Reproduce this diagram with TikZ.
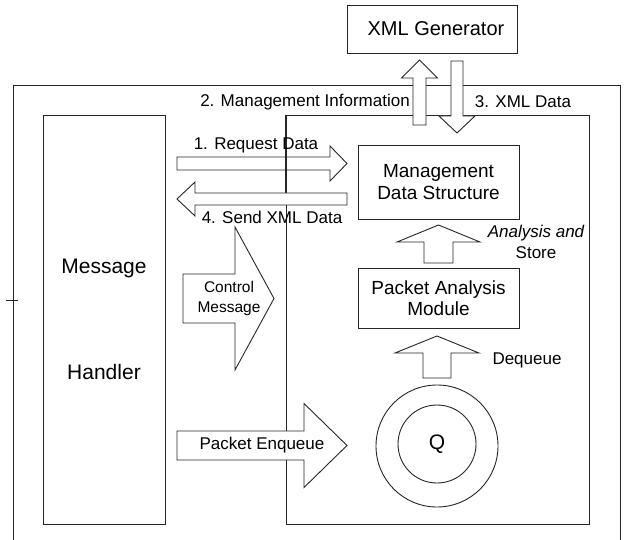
\documentclass[tikz,border=0pt]{standalone}
\usepackage{fontspec}
\setmainfont{Liberation Sans}
\newcommand\boxfont{\fontsize{19}{21.5}\selectfont}
\newcommand\bigfont{\fontsize{21}{24}\selectfont}
\newcommand\lblfont{\fontsize{17}{21}\selectfont}
\newcommand\smallfont{\fontsize{15.5}{20}\selectfont}
\tikzset{
  line/.style={draw=black!85, line width=0.9pt},
  box/.style={line, rectangle, inner sep=0pt, align=center, font=\boxfont},
  blockarrow/.style={line, fill=white, line join=miter},
  lbl/.style={inner sep=0pt, align=center, font=\lblfont},
}
% horizontal block arrow: [opts]{tail x}{tip x}{head base x}{centre y}{half shaft}{half head}
\newcommand\hblock[7][]{%
  \path[blockarrow,#1] (#2,{#5-#6}) -- (#4,{#5-#6}) -- (#4,{#5-#7}) -- (#3,#5)
    -- (#4,{#5+#7}) -- (#4,{#5+#6}) -- (#2,{#5+#6}) -- cycle;}
% vertical block arrow: [opts]{centre x}{tail y}{tip y}{head base y}{half shaft}{half head}
\newcommand\vblock[7][]{%
  \path[blockarrow,#1] ({#2-#6},#3) -- ({#2-#6},#5) -- ({#2-#7},#5) -- (#2,#4)
    -- ({#2+#7},#5) -- ({#2+#6},#5) -- ({#2+#6},#3) -- cycle;}
\begin{document}
\begin{tikzpicture}[x=1pt,y=-1pt]
\useasboundingbox (0,0) rectangle (624,540);

% outer system frame (open at the bottom edge)
\draw[line] (13,548) -- (13,85) -- (620,85) -- (620,548);
\draw[line, line width=0.6pt] (6,300) -- (18,300);

% inner processing area
\node[line, rectangle, minimum width=303pt, minimum height=409pt, inner sep=0pt]
  (core) at (437.5,319.5) {};

% boxes
\node[box, minimum width=170pt, minimum height=48pt] (xmlgen) at (432,29) {};
\node[inner sep=0pt, font=\fontsize{20}{22}\selectfont] (xmltext) at (436,29) {XML Generator};
\node[box, minimum width=122pt, minimum height=409pt] (mh) at (104,319.5) {};
\node[inner sep=0pt, font=\bigfont] (mhtop) at (104,268) {Message};
\node[inner sep=0pt, font=\bigfont] (mhbot) at (104,372) {Handler};
\node[box, minimum width=161pt, minimum height=74pt] (mds) at (438.5,182)
  {Management\\Data Structure};
\node[box, minimum width=161pt, minimum height=60pt] (pam) at (438.5,298)
  {Packet Analysis\\Module};

% queue
\node[line, circle, minimum size=122pt, inner sep=0pt] (qout) at (437,446) {};
\node[line, circle, minimum size=78pt, inner sep=0pt, font=\bigfont] (q) at (437,444) {Q};

% exchange with the XML generator
\vblock{419.5}{125}{60}{78}{6.5}{18}
\vblock{457}{61}{133}{116}{6}{18}
\node[lbl] (mgmt) at (305,102) {2. Management Information};
\node[lbl] (xmld) at (523,102) {3. XML Data};

% request / reply between handler and data structure
\hblock[fill=none]{177}{347}{330}{163.5}{6.5}{17.5}
\hblock{347}{177}{195}{199}{6}{17}
\draw[line] (core.north west) -- (core.north west |- 0,193);
\node[lbl] (req) at (256,145) {1. Request Data};
\node[lbl] (send) at (272,217) {4. Send XML Data};

% control message
\hblock{183}{274}{235}{298.5}{24.5}{71.5}
\node[inner sep=0pt, align=center, font=\smallfont] (ctrl) at (229,298) {Control\\Message};

% packet path
\hblock{177}{347}{304}{445.5}{14.5}{42}
\node[lbl] (enq) at (262,445) {Packet Enqueue};
\vblock{437}{378}{336}{353}{14}{42}
\node[lbl] (deq) at (527,360) {Dequeue};
\vblock{438.5}{263}{225}{242}{14.5}{41.5}
\node[lbl] (store) at (536,242) {\itshape Analysis and\\Store};

\end{tikzpicture}
\end{document}
